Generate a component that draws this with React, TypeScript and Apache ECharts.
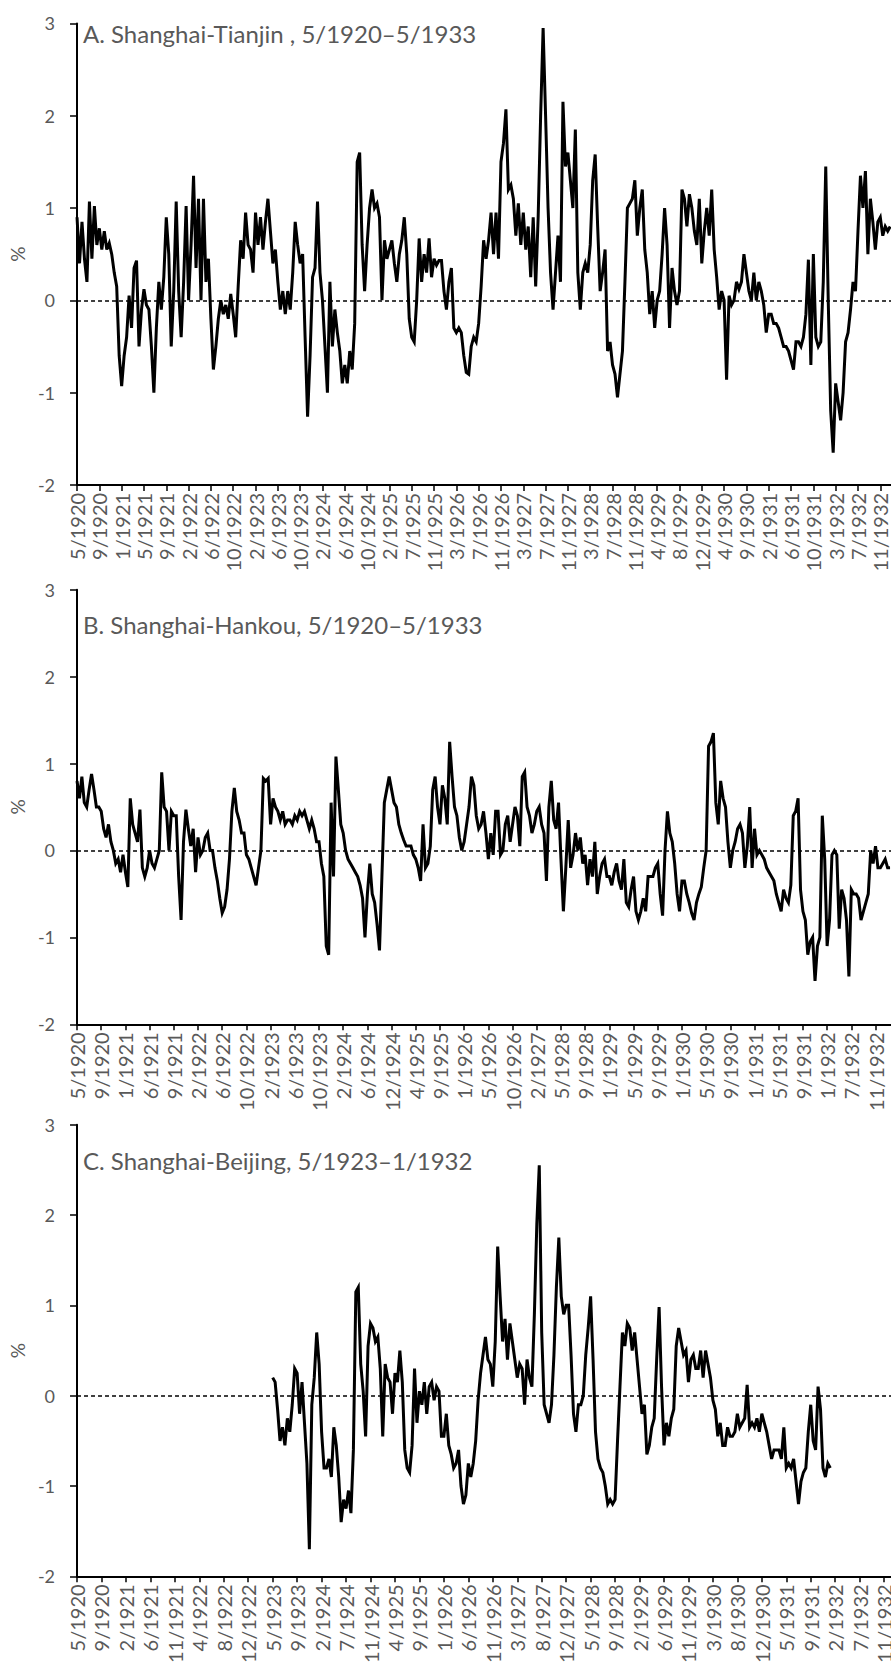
import React, { useEffect, useRef } from "react";
import * as echarts from "echarts";

// ---------- DATA ----------
const titleA = "A. Shanghai-Tianjin , 5/1920\u20135/1933";
const titleB = "B. Shanghai-Hankou, 5/1920\u20135/1933";
const titleC = "C. Shanghai-Beijing, 5/1923\u20131/1932";

const tickLabelsA = [
  "5/1920", "9/1920", "1/1921", "5/1921", "9/1921", "2/1922", "6/1922", "10/1922",
  "2/1923", "6/1923", "10/1923", "2/1924", "6/1924", "10/1924", "2/1925", "7/1925",
  "11/1925", "3/1926", "7/1926", "11/1926", "3/1927", "7/1927", "11/1927", "3/1928",
  "7/1928", "11/1928", "4/1929", "8/1929", "12/1929", "4/1930", "9/1930", "2/1931",
  "6/1931", "10/1931", "3/1932", "7/1932", "11/1932",
];
const tickLabelsB = [
  "5/1920", "9/1920", "1/1921", "6/1921", "9/1921", "2/1922", "6/1922", "10/1922",
  "2/1923", "6/1923", "10/1923", "2/1924", "6/1924", "12/1924", "4/1925", "9/1925",
  "1/1926", "5/1926", "10/1926", "2/1927", "5/1928", "9/1928", "1/1929", "5/1929",
  "9/1929", "1/1930", "5/1930", "9/1930", "1/1931", "5/1931", "9/1931", "1/1932",
  "7/1932", "11/1932",
];
const tickLabelsC = [
  "5/1920", "9/1920", "2/1921", "6/1921", "11/1921", "4/1922", "8/1922", "12/1922",
  "5/1923", "9/1923", "2/1924", "7/1924", "11/1924", "4/1925", "9/1925", "1/1926",
  "6/1926", "11/1926", "3/1927", "8/1927", "12/1927", "5/1928", "9/1928", "2/1929",
  "6/1929", "11/1929", "3/1930", "8/1930", "12/1930", "5/1931", "9/1931", "2/1932",
  "7/1932", "11/1932",
];

// Panel A: 9 samples between labelled ticks
const valuesA = [
  0.9, 0.4, 0.85, 0.45, 0.2, 1.07, 0.45, 1.02, 0.6, 0.78,
  0.55, 0.75, 0.55, 0.62, 0.5, 0.3, 0.15, -0.6, -0.93, -0.6,
  -0.4, 0.05, -0.3, 0.35, 0.43, -0.5, -0.1, 0.12, -0.05, -0.1,
  -0.5, -1.0, -0.3, 0.2, -0.1, 0.25, 0.9, 0.5, -0.5, 0.1,
  1.07, 0.1, -0.4, 0.2, 1.02, 0.0, 0.6, 1.35, 0.35, 1.1,
  0.0, 1.1, 0.2, 0.45, -0.2, -0.75, -0.5, -0.2, 0.0, -0.15,
  -0.05, -0.2, 0.07, -0.15, -0.4, 0.15, 0.65, 0.45, 0.95, 0.6,
  0.55, 0.3, 0.95, 0.6, 0.9, 0.55, 0.85, 1.1, 0.75, 0.4,
  0.55, 0.2, -0.1, 0.1, -0.15, 0.1, -0.1, 0.3, 0.85, 0.6,
  0.4, 0.5, -0.4,
  -1.26, -0.6, 0.25, 0.35, 1.07, 0.3, 0.0, -0.5, -1.0,
  0.2, -0.5, -0.1, -0.35, -0.55, -0.9, -0.7, -0.9, -0.55, -0.75,
  -0.25, 1.5, 1.6, 0.6, 0.1, 0.6, 1.0, 1.2, 1.0, 1.05,
  0.9, 0.0, 0.65, 0.45, 0.55, 0.65, 0.4, 0.2, 0.5, 0.65,
  0.9, 0.5, -0.2, -0.4, -0.45, 0.0, 0.67, 0.2, 0.5, 0.3,
  0.67, 0.25, 0.45, 0.38, 0.43, 0.43, 0.1, -0.1, 0.2, 0.35,
  -0.3, -0.35, -0.3, -0.35, -0.6, -0.78, -0.8, -0.5, -0.4, -0.45,
  -0.25, 0.15, 0.65, 0.45, 0.65, 0.95, 0.5, 0.95, 0.45, 1.5,
  1.7, 2.07, 1.2, 1.25, 1.1, 0.7, 1.05, 0.6, 0.95, 0.55,
  0.8, 0.25, 0.9, 0.15, 0.9, 2.0, 2.95, 2.0, 1.0, 0.3,
  -0.1, 0.3, 0.7, 0.2, 2.15, 1.45, 1.6, 1.3, 1.0, 1.85,
  0.3, -0.1, 0.3, 0.4, 0.3, 0.6, 1.3,
  1.58, 0.8, 0.1, 0.3, 0.55, -0.55, -0.45, -0.7, -0.8,
  -1.05, -0.8, -0.55, 0.2, 1.0, 1.05, 1.1, 1.3, 0.7, 1.0,
  1.2, 0.55, 0.3, -0.15, 0.1, -0.3, 0.0, 0.1, 0.5, 1.0,
  0.6, -0.3, 0.35, 0.1, -0.05, 0.1, 1.2, 1.1, 0.8, 1.15,
  1.0, 0.75, 0.6, 1.1, 0.4, 0.75, 1.0, 0.7, 1.2, 0.55,
  0.25, -0.1, 0.1, 0.0, -0.86, 0.05, -0.05, 0.0, 0.2, 0.12,
  0.2, 0.5, 0.3, 0.1, 0.0, 0.3, 0.0, 0.2, 0.1, -0.05,
  -0.35, -0.15, -0.15, -0.25, -0.25, -0.3, -0.4, -0.5, -0.5, -0.55,
  -0.65, -0.75, -0.45, -0.45, -0.5, -0.4, -0.15, 0.44, -0.7, 0.5,
  -0.4, -0.5, -0.45, 0.2, 1.45, 0.0, -1.2, -1.65, -0.9, -1.1,
  -1.3, -1.0, -0.45, -0.35, -0.1, 0.2, 0.1, 0.75, 1.35, 1.0,
  1.4, 0.5, 1.1, 0.85, 0.55, 0.85, 0.9, 0.7, 0.8, 0.75,
  0.8,
];

// Panel B: 10 samples between labelled ticks
const valuesB = [
  0.8, 0.6, 0.85, 0.55, 0.5, 0.7, 0.88, 0.7, 0.5, 0.5,
  0.45, 0.25, 0.15, 0.3, 0.1, 0.0, -0.15, -0.1, -0.25, -0.05,
  -0.25, -0.42, 0.6, 0.3, 0.2, 0.1, 0.47, -0.2, -0.3, -0.2,
  0.0, -0.15, -0.2, -0.1, 0.0, 0.9, 0.5, 0.45, 0.0, 0.45,
  0.4, 0.4, -0.3, -0.8, 0.1, 0.47, 0.25, 0.05, 0.25, -0.25,
  0.15, -0.05, 0.0, 0.15, 0.2, 0.0, 0.0, -0.2, -0.35, -0.55,
  -0.72, -0.65, -0.45, -0.1, 0.45, 0.72, 0.45, 0.35, 0.2, 0.2,
  -0.05, -0.1, -0.2, -0.3, -0.4, -0.2, 0.0, 0.83, 0.8, 0.83,
  0.3, 0.6, 0.5, 0.45, 0.35, 0.45, 0.3, 0.35, 0.35, 0.3,
  0.4, 0.35, 0.45, 0.4, 0.45, 0.35, 0.25, 0.35, 0.25, 0.1,
  0.1, -0.15, -0.3, -1.1, -1.2, 0.55, -0.3, 1.08, 0.7, 0.3,
  0.2, 0.0, -0.1, -0.15, -0.2, -0.25, -0.3, -0.4, -0.55, -1.0,
  -0.5, -0.15, -0.5, -0.6, -0.85, -1.15, -0.3, 0.55, 0.7, 0.85,
  0.7, 0.55, 0.5, 0.3, 0.2, 0.12, 0.05, 0.05, 0.05, -0.05,
  -0.1, -0.2, -0.35, 0.3, -0.2, -0.15, 0.05, 0.7, 0.85, 0.5,
  0.3, 0.75, 0.6, 0.3, 1.25, 0.85, 0.5, 0.4, 0.15, 0.0,
  0.1, 0.3, 0.5, 0.85, 0.75, 0.4, 0.25, 0.3, 0.45, 0.2,
  -0.1, 0.2, -0.05, 0.45, 0.45, -0.05, 0.0, 0.3, 0.4, 0.1,
  0.3, 0.5, 0.4, 0.05, 0.85, 0.9, 0.5, 0.4, 0.2, 0.3,
  0.45, 0.5, 0.3, 0.2, -0.35, 0.5, 0.8, 0.35, 0.25, 0.55,
  -0.1, -0.7, -0.2, 0.35, -0.2, -0.05, 0.2, 0.0, 0.15, -0.15,
  -0.05, -0.4, -0.1, -0.3, 0.1, -0.5, -0.3, -0.15, -0.1, -0.3,
  -0.3, -0.4, -0.25, -0.15, -0.35, -0.45, -0.1, -0.6, -0.65, -0.45,
  -0.3, -0.7, -0.8, -0.7, -0.55, -0.7, -0.3, -0.3, -0.3, -0.2,
  -0.15, -0.5, -0.75, 0.0, 0.45, 0.2, 0.1, -0.15, -0.5, -0.7,
  -0.35, -0.35, -0.5, -0.6, -0.72, -0.8, -0.6, -0.5, -0.42, -0.2,
  0.0, 1.2, 1.25, 1.35, 0.55, 0.3, 0.8, 0.6, 0.5, 0.1,
  -0.2, 0.0, 0.1, 0.25, 0.3, 0.2, -0.2, 0.05, 0.5, -0.2,
  0.25, -0.05, 0.0, -0.05, -0.1, -0.2, -0.25, -0.3, -0.35, -0.5,
  -0.6, -0.7, -0.45, -0.55, -0.6, -0.4, 0.4, 0.45, 0.6, -0.45,
  -0.7, -0.8, -1.2, -1.05, -1.0, -1.5, -1.1, -1.0, 0.4, -0.1,
  -1.1, -0.8, -0.05, 0.0, -0.05, -0.9, -0.45, -0.55, -0.8, -1.45,
  -0.45, -0.5, -0.5, -0.55, -0.8, -0.7, -0.6, -0.5, 0.0, -0.15,
  0.05, -0.2, -0.2, -0.15, -0.1, -0.2, -0.2,
];

// Panel C: 10 samples between labelled ticks, series starts at tick "5/1923"
const startC = 80;
const valuesC = [
  0.2, 0.15, -0.15, -0.5, -0.35, -0.55, -0.25, -0.4, -0.1, 0.3,
  0.25, -0.2, 0.15, -0.3, -0.75, -1.7, -0.1, 0.2, 0.7, 0.35,
  -0.4, -0.8, -0.8, -0.7, -0.9, -0.35, -0.55, -0.9, -1.4, -1.15,
  -1.25, -1.05, -1.3, -0.6, 1.15, 1.2, 0.35, 0.05, -0.45, 0.55,
  0.8, 0.75, 0.6, 0.65, 0.3, -0.45, 0.35, 0.2, 0.15, -0.2,
  0.25, 0.15, 0.5, 0.15, -0.6, -0.8, -0.85, -0.55, 0.3, -0.3,
  0.05, -0.1, 0.15, -0.2, 0.1, 0.15, -0.05, 0.1, 0.05, -0.45,
  -0.45, -0.2, -0.55, -0.65, -0.8, -0.75, -0.6, -1.0, -1.2, -1.1,
  -0.75, -0.9, -0.75, -0.5, -0.05, 0.25, 0.45, 0.65, 0.4, 0.35,
  0.1, 0.6, 1.65, 1.1, 0.6, 0.85, 0.4, 0.8, 0.6, 0.4,
  0.2, 0.35, 0.3, -0.1, 0.4, 0.2, 0.1, 0.9, 1.9, 2.55,
  0.7, -0.1, -0.2, -0.3, -0.1, 0.45, 1.2, 1.75, 1.1, 0.9,
  1.0, 1.0, 0.45, -0.2, -0.4, -0.1, -0.1, 0.0, 0.45, 0.75,
  1.1, 0.4, -0.4, -0.7, -0.8, -0.85, -1.0, -1.2, -1.15, -1.2,
  -1.15, -0.5, 0.1, 0.7, 0.55, 0.8, 0.75, 0.5, 0.7, 0.4,
  0.1, -0.2, -0.1, -0.65, -0.55, -0.35, -0.25, 0.4, 0.98, 0.1,
  -0.55, -0.3, -0.45, -0.25, -0.15, 0.55, 0.75, 0.6, 0.45, 0.5,
  0.15, 0.4, 0.45, 0.3, 0.3, 0.5, 0.2, 0.5, 0.35, 0.2,
  -0.05, -0.15, -0.45, -0.3, -0.55, -0.55, -0.35, -0.45, -0.45, -0.4,
  -0.2, -0.35, -0.3, -0.25, 0.12, -0.35, -0.3, -0.35, -0.25, -0.4,
  -0.2, -0.3, -0.4, -0.55, -0.7, -0.6, -0.6, -0.6, -0.7, -0.35,
  -0.8, -0.75, -0.8, -0.7, -0.95, -1.2, -0.95, -0.85, -0.8, -0.4,
  -0.1, -0.5, -0.6, 0.1, -0.15, -0.8, -0.9, -0.75, -0.8,
];

// ---------- LAYOUT ----------
const FONT = 'Lato, "Open Sans", sans-serif';
const TEXT = "#595959";

const panels = [
  { title: titleA, ticks: tickLabelsA, per: 9, count: 339, step: 2.5, top: 23.4, height: 461.5, titleY: 33,
    data: valuesA.map((v, i) => [i, v]) },
  { title: titleB, ticks: tickLabelsB, per: 10, count: 347, step: 2.44, top: 589.7, height: 434.6, titleY: 624,
    data: valuesB.map((v, i) => [i, v]) },
  { title: titleC, ticks: tickLabelsC, per: 10, count: 347, step: 2.466, top: 1124.7, height: 460.5, titleY: 1160,
    data: valuesC.map((v, i) => [startC + i, v]) },
];

function buildCategories(ticks: string[], per: number, count: number) {
  return Array.from({ length: count }, (_, i) =>
    i % per === 0 && i / per < ticks.length ? ticks[i / per] : ""
  );
}

export default function App() {
  const ref = useRef<HTMLDivElement>(null);

  useEffect(() => {
    if (!ref.current) return;
    const chart = echarts.init(ref.current, undefined, { renderer: "svg" });

    const shown = (p: any) => (idx: number) => idx % p.per === 0 && idx / p.per < p.ticks.length;

    const option: any = {
      animation: false,
      backgroundColor: "#ffffff",
      grid: panels.map((p) => ({
        left: 70,
        top: p.top,
        width: (p.count - 1) * p.step,
        height: p.height,
        containLabel: false,
      })),
      xAxis: panels.map((p, i) => ({
        type: "category",
        gridIndex: i,
        data: buildCategories(p.ticks, p.per, p.count),
        boundaryGap: false,
        axisLine: { onZero: false, lineStyle: { color: "#000", width: 2 } },
        axisTick: { show: true, interval: shown(p), length: 6, lineStyle: { color: "#000", width: 1.5 } },
        axisLabel: {
          interval: shown(p),
          rotate: 90,
          margin: 8,
          color: TEXT,
          fontSize: 20,
          fontFamily: FONT,
        },
        splitLine: { show: false },
      })),
      yAxis: panels.map((p, i) => ({
        type: "value",
        gridIndex: i,
        min: -2,
        max: 3,
        interval: 1,
        name: "%",
        nameLocation: "middle",
        nameGap: 44,
        nameRotate: 90,
        nameTextStyle: { color: TEXT, fontSize: 19, fontFamily: FONT },
        axisLine: { show: true, lineStyle: { color: "#000", width: 2 } },
        axisTick: { show: true, length: 7, lineStyle: { color: "#000", width: 1.5 } },
        axisLabel: { color: TEXT, fontSize: 18, margin: 22, fontFamily: FONT },
        splitLine: { show: false },
      })),
      series: panels.map((p, i) => ({
        type: "line",
        xAxisIndex: i,
        yAxisIndex: i,
        data: p.data,
        showSymbol: false,
        symbol: "none",
        lineStyle: { color: "#000", width: 3, join: "miter" },
        itemStyle: { color: "#000" },
        markLine: {
          silent: true,
          symbol: "none",
          label: { show: false },
          lineStyle: { color: "#000", type: [4, 3], width: 1.5 },
          data: [{ yAxis: 0 }],
        },
      })),
      graphic: panels.map((p) => ({
        type: "text",
        x: 83,
        y: p.titleY,
        style: {
          text: p.title,
          fill: TEXT,
          fontSize: 24,
          fontFamily: FONT,
          verticalAlign: "middle",
        },
      })),
    };

    chart.setOption(option);
    return () => chart.dispose();
  }, []);

  return (
    <div
      style={{
        position: "fixed",
        left: 0,
        top: 0,
        width: 891,
        height: 1666,
        overflow: "hidden",
        background: "#fff",
      }}
    >
      <div ref={ref} style={{ width: 940, height: 1666 }} />
    </div>
  );
}
